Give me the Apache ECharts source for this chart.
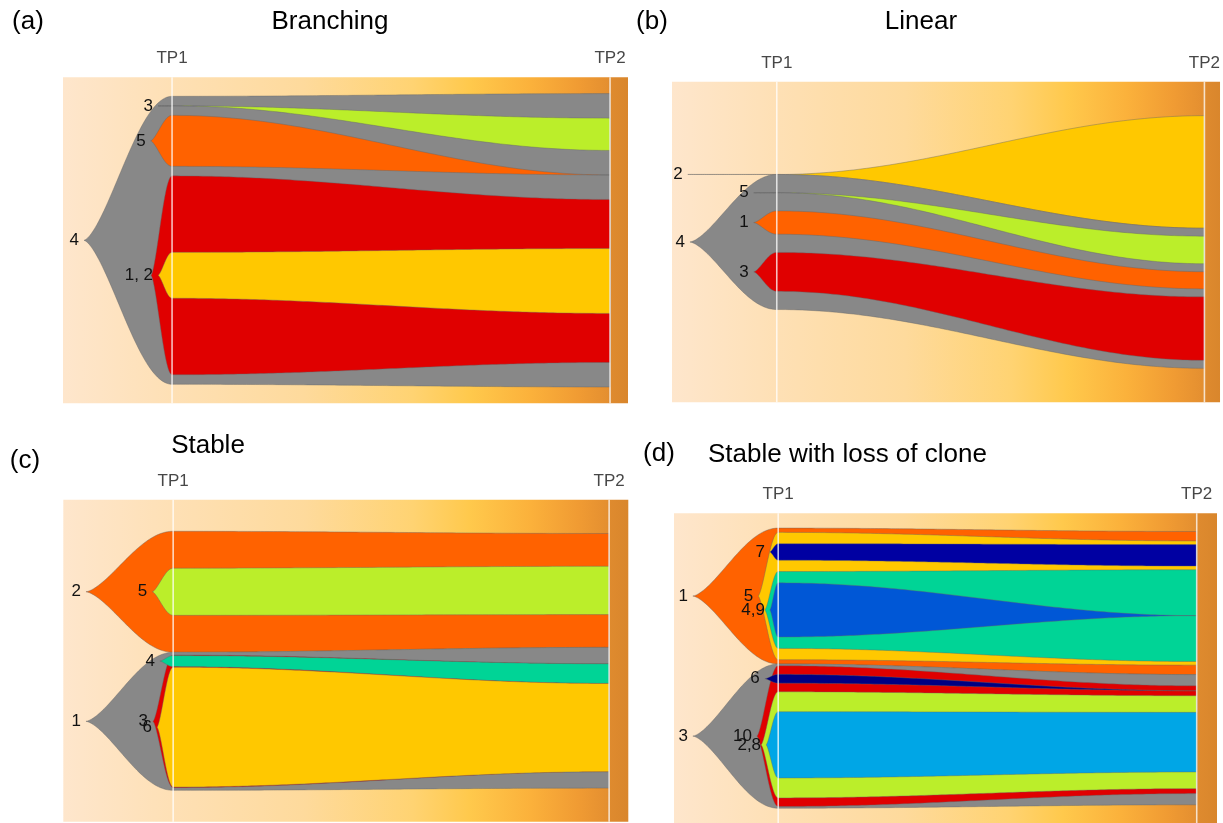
<!DOCTYPE html>
<html>
<head>
<meta charset="utf-8">
<title>Clonal evolution patterns</title>
<script src="https://cdn.jsdelivr.net/npm/echarts@6/dist/echarts.min.js"></script>
<style>
  html, body { margin: 0; padding: 0; background: #ffffff; }
  #chart { width: 1223px; height: 823px; }
</style>
</head>
<body>
<div id="chart"></div>
<script>
// Sampling time points (x value of each time point) and their labels
const timepointLabels = ['TP1', 'TP2'];
const timepoints = [0, 100];

// (a) Branching, MMRF_1401: clone ids, parent clone, cell fraction (%) at TP1 / TP2,
// and the time at which each clone arises (before TP1)
const branchingClones = ['4', '3', '5', '1', '2'];
const branchingParents = [null, '4', '4', '4', '1'];
const branchingTP1 = [95.4, 0, 16.9, 65.9, 15.2];
const branchingTP2 = [97.2, 10.7, 0, 54.0, 21.5];
const branchingOrigin = [-20.1, -3.2, -4.9, -4.8, -3.2];
const branchingLabels = ['4', '3', '5', '1, 2'];
const branchingLabelClones = ['4', '3', '5', '2'];

// (b) Linear, MMRF_1155
const linearClones = ['2', '4', '5', '1', '3'];
const linearParents = [null, null, '4', '4', '4'];
const linearTP1 = [0, 45.5, 0, 7.85, 13.1];
const linearTP2 = [37.9, 47.2, 9.3, 5.8, 21.4];
const linearOrigin = [-20.8, -20.3, -5.4, -5.4, -5.4];
const linearLabels = ['2', '4', '5', '1', '3'];
const linearLabelClones = ['2', '4', '5', '1', '3'];

// (c) Stable, MMRF_2095
const stableClones = ['2', '5', '1', '3', '4', '6'];
const stableParents = [null, '2', null, '1', '3', '3'];
const stableTP1 = [40.6, 15.8, 46.3, 44.5, 3.7, 40.2];
const stableTP2 = [38.2, 16.2, 47.2, 36.2, 6.6, 29.6];
const stableOrigin = [-20.0, -4.8, -20.0, -4.65, -3.05, -3.7];
const stableLabels = ['2', '5', '1', '4', '3', '6'];
const stableLabelClones = ['2', '5', '1', '4', '3', '6'];

// (d) Stable with loss of clone, MMRF_2419
const lossClones = ['1', '5', '7', '4', '9', '3', '10', '6', '2', '8'];
const lossParents = [null, '1', '5', '5', '4', null, '3', '10', '10', '2'];
const lossTP1 = [47.4, 44.4, 5.76, 26.8, 18.9, 50.3, 49.1, 3.1, 37.0, 23.1];
const lossTP2 = [49.9, 43.3, 7.5, 32.0, 0, 45.4, 37.6, 0, 32.4, 20.8];
const lossOrigin = [-20.4, -4.8, -2.0, -3.2, -2.0, -20.4, -5.1, -3.2, -4.1, -2.9];
const lossLabels = ['1', '7', '5', '4,9', '3', '6', '10', '2,8'];
const lossLabelClones = ['1', '7', '5', '9', '3', '6', '10', '8'];

// Clone colours
const C = {
  gray: '#888888', orange: '#FF6200', red: '#E00000', yellow: '#FFC800',
  lime: '#BBEE2A', teal: '#00D496', navy: '#0000A2', darkNavy: '#000082',
  blue: '#0057D6', cyan: '#00A6E6'
};
const branchingColors = { '4': C.gray, '3': C.lime, '5': C.orange, '1': C.red, '2': C.yellow };
const linearColors = { '2': C.yellow, '4': C.gray, '5': C.lime, '1': C.orange, '3': C.red };
const stableColors = { '2': C.orange, '5': C.lime, '1': C.gray, '3': C.red, '4': C.teal, '6': C.yellow };
const lossColors = { '1': C.orange, '5': C.yellow, '7': C.navy, '4': C.teal, '9': C.blue,
  '3': C.gray, '10': C.red, '6': C.darkNavy, '2': C.lime, '8': C.cyan };

const FONT = "'Liberation Sans', Arial, Helvetica, sans-serif";
const Y_MIN = -4, Y_MAX = 104;

// Background gradient along the time axis
const bgStops = [
  [-30, '#FEE6CC'], [0, '#FEE0B5'], [30, '#FEDA9C'], [55, '#FFD372'],
  [68, '#FFC94C'], [82, '#FBB13B'], [93, '#F09B33'], [99.6, '#E48F30'],
  [99.7, '#DF8B2F'], [110, '#D9862C']
];

// Stack the clones at one time point: roots are stacked and centred at 50,
// children are spread evenly inside their parent.
function layoutClones(ids, parents, frac) {
  const pos = {};
  const f = {};
  ids.forEach((id, i) => { f[id] = frac[i]; });
  const roots = ids.filter((id, i) => parents[i] === null);
  const total = roots.reduce((s, r) => s + f[r], 0);
  let y = 50 - total / 2;
  roots.forEach(r => { pos[r] = [y, y + f[r]]; y += f[r]; });
  function place(p) {
    const kids = ids.filter((id, i) => parents[i] === p);
    if (!kids.length) return;
    const used = kids.reduce((s, k) => s + f[k], 0);
    const gap = (pos[p][1] - pos[p][0] - used) / (kids.length + 1);
    let yy = pos[p][0] + gap;
    kids.forEach(k => { pos[k] = [yy, yy + f[k]]; yy += f[k] + gap; place(k); });
  }
  roots.forEach(place);
  return pos;
}

function cloneOutline(id, origin, p1, p2) {
  const [t1, b1] = p1[id];
  const [t2, b2] = p2[id];
  const c = (t1 + b1) / 2;
  const xa = timepoints[0], xb = timepoints[1];
  const top = [], bot = [];
  const N1 = 48, N2 = 100;
  for (let k = 0; k <= N1; k++) {
    const t = k / N1;
    const s = Math.pow(Math.sin(t * Math.PI / 2), 1.5);
    const x = origin + (xa - origin) * t;
    top.push([x, c + (t1 - c) * s]);
    bot.push([x, c + (b1 - c) * s]);
  }
  for (let k = 1; k <= N2; k++) {
    const t = k / N2;
    const e = (1 - Math.cos(Math.PI * t)) / 2;
    const x = xa + (xb - xa) * t;
    top.push([x, t1 + (t2 - t1) * e]);
    bot.push([x, b1 + (b2 - b1) * e]);
  }
  return top.concat(bot.reverse());
}

const panels = [
  { ids: branchingClones, parents: branchingParents, tp1: branchingTP1, tp2: branchingTP2,
    origin: branchingOrigin, labels: branchingLabels, labelClones: branchingLabelClones, colors: branchingColors,
    grid: { left: 63, top: 77.3, width: 565, height: 326 }, xmin: -24.9, xmax: 104.1 },
  { ids: linearClones, parents: linearParents, tp1: linearTP1, tp2: linearTP2,
    origin: linearOrigin, labels: linearLabels, labelClones: linearLabelClones, colors: linearColors,
    grid: { left: 672, top: 81.7, width: 551, height: 320.6 }, xmin: -24.5, xmax: 103.65 },
  { ids: stableClones, parents: stableParents, tp1: stableTP1, tp2: stableTP2,
    origin: stableOrigin, labels: stableLabels, labelClones: stableLabelClones, colors: stableColors,
    grid: { left: 63.3, top: 499.8, width: 565, height: 322 }, xmin: -25.2, xmax: 104.4 },
  { ids: lossClones, parents: lossParents, tp1: lossTP1, tp2: lossTP2,
    origin: lossOrigin, labels: lossLabels, labelClones: lossLabelClones, colors: lossColors,
    grid: { left: 674, top: 513.3, width: 543, height: 311.4 }, xmin: -24.9, xmax: 104.85 }
];

const grids = [], xAxes = [], yAxes = [], series = [];

panels.forEach((p, pi) => {
  const pos1 = layoutClones(p.ids, p.parents, p.tp1);
  const pos2 = layoutClones(p.ids, p.parents, p.tp2);
  grids.push(Object.assign({ containLabel: false }, p.grid));
  xAxes.push({
    gridIndex: pi, type: 'value', min: p.xmin, max: p.xmax, position: 'top',
    axisLine: { show: false }, axisTick: { show: false }, splitLine: { show: false },
    axisLabel: {
      customValues: timepoints,
      formatter: v => timepointLabels[timepoints.indexOf(v)] || '',
      color: '#474747', fontSize: 17, fontFamily: FONT, margin: 10
    }
  });
  yAxes.push({ gridIndex: pi, type: 'value', min: Y_MIN, max: Y_MAX, inverse: true, show: false });

  // background
  series.push({
    type: 'custom', xAxisIndex: pi, yAxisIndex: pi, z: 1, silent: true,
    data: [[p.xmin, Y_MIN]],
    renderItem: (params, api) => {
      const cs = params.coordSys;
      const stops = bgStops.map(([u, col]) => {
        const off = (api.coord([u, 50])[0] - cs.x) / cs.width;
        return { offset: Math.min(1, Math.max(0, off)), color: col };
      });
      return {
        type: 'rect', shape: { x: cs.x, y: cs.y, width: cs.width, height: cs.height },
        style: { fill: new echarts.graphic.LinearGradient(0, 0, 1, 0, stops) }
      };
    }
  });

  // clones
  series.push({
    type: 'custom', xAxisIndex: pi, yAxisIndex: pi, z: 2, silent: true,
    data: p.ids.map((id, i) => [p.origin[i], (pos1[id][0] + pos1[id][1]) / 2, i]),
    renderItem: (params, api) => {
      const i = api.value(2);
      const id = p.ids[i];
      const pts = cloneOutline(id, p.origin[i], pos1, pos2).map(pt => api.coord(pt));
      return {
        type: 'polygon', shape: { points: pts },
        style: { fill: p.colors[id], stroke: 'rgba(100,100,100,0.6)', lineWidth: 0.7 }
      };
    }
  });

  // time point guide lines
  series.push({
    type: 'custom', xAxisIndex: pi, yAxisIndex: pi, z: 3, silent: true,
    data: timepoints.map(t => [t, Y_MIN]),
    renderItem: (params, api) => {
      const a = api.coord([api.value(0), Y_MIN]);
      const b = api.coord([api.value(0), Y_MAX]);
      return {
        type: 'line', shape: { x1: a[0], y1: a[1], x2: b[0], y2: b[1] },
        style: { stroke: 'rgba(255,255,255,0.75)', lineWidth: 1.6 }
      };
    }
  });

  // clone labels at the point where each clone arises
  series.push({
    type: 'custom', xAxisIndex: pi, yAxisIndex: pi, z: 4, silent: true,
    data: p.labels.map((txt, li) => {
      const id = p.labelClones[li];
      const i = p.ids.indexOf(id);
      return [p.origin[i], (pos1[id][0] + pos1[id][1]) / 2, li];
    }),
    renderItem: (params, api) => {
      const pt = api.coord([api.value(0), api.value(1)]);
      const li = api.value(2);
      return {
        type: 'text', x: pt[0] - 5, y: pt[1],
        style: {
          text: p.labels[li], fill: '#111111', font: '17px ' + FONT,
          align: 'right', verticalAlign: 'middle', textAlign: 'right', textVerticalAlign: 'middle'
        }
      };
    }
  });
});

function txt(text, x, y, size, align, color) {
  return {
    type: 'text', x: x, y: y, silent: true,
    style: { text: text, font: size + 'px ' + FONT, fill: color || '#000000',
      align: align, verticalAlign: 'middle', textAlign: align, textVerticalAlign: 'middle' }
  };
}

const chart = echarts.init(document.getElementById('chart'), null, { renderer: 'canvas' });
chart.setOption({
  animation: false,
  backgroundColor: '#ffffff',
  grid: grids,
  xAxis: xAxes,
  yAxis: yAxes,
  series: series,
  graphic: [
    txt('(a)', 28, 22, 26, 'center'),
    txt('Branching', 330, 22, 26, 'center'),
    txt('(b)', 652, 22, 26, 'center'),
    txt('Linear', 921, 22, 26, 'center'),
    txt('(c)', 25, 461, 26, 'center'),
    txt('Stable', 208, 446, 26, 'center'),
    txt('(d)', 659, 454, 26, 'center'),
    txt('Stable with loss of clone', 708, 455, 26, 'left'),
    txt('MMRF_1401', 81.5, 383, 12, 'left', '#222222'),
    txt('MMRF_1155', 690, 382.5, 12, 'left', '#222222'),
    txt('MMRF_2095', 84, 804, 12, 'left', '#222222'),
    txt('MMRF_2419', 692.5, 805, 12, 'left', '#222222')
  ]
});
</script>
</body>
</html>
